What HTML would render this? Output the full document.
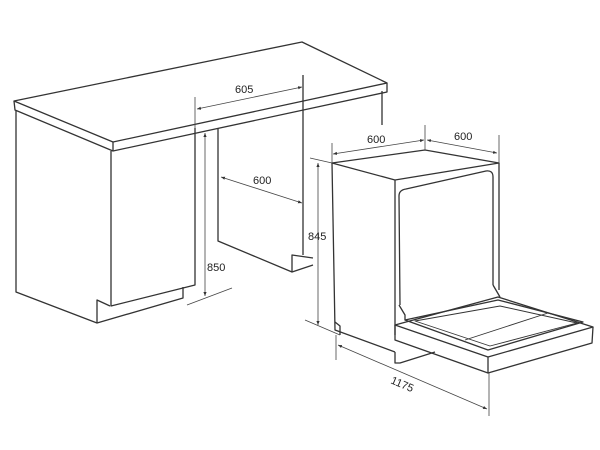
<!DOCTYPE html>
<html><head><meta charset="utf-8"><style>
html,body{margin:0;padding:0;background:#fff;}
svg{display:block}
text{font-family:"Liberation Sans",sans-serif;font-size:11px;fill:#222}
</style></head><body>
<svg width="600" height="450" viewBox="0 0 600 450" xmlns="http://www.w3.org/2000/svg">
<defs>
<marker id="a" viewBox="0 0 10 10" refX="10" refY="5" markerWidth="5" markerHeight="5" orient="auto-start-reverse"><path d="M0,1 L10,5 L0,9 z" fill="#333"/></marker>
</defs>
<g fill="none" stroke="#333" stroke-width="1.3" stroke-linejoin="round">
<!-- countertop -->
<path d="M14,101 L302,42 L387,83 L113,142 Z"/>
<path d="M14,101 L15,110 L113,151 L387,92 L387,83"/>
<path d="M113,142 L113,151"/>
<!-- left cabinet -->
<path d="M16,110 L16,292 L97,323 L183,298 L183,287"/>
<path d="M111,151 L111,306 L195,285 L195,128"/>
<path d="M97,323 L97,300 L110,306"/>
<!-- back panel of right cabinet -->
<path d="M218,128 L218,241 L292,272 L313,265"/>
<path d="M292,272 L292,255 L313,258"/>
<path d="M303,75 L303,255"/>
<path d="M382,91 L382,125"/>
<!-- dishwasher body -->
<path d="M332,163 L425,150 L499,163 L395,180 Z"/>
<path d="M332,163 L335,330 L395,352"/>
<path d="M395,180 L395,335"/>
<path d="M499,163 L499,290"/>
<path d="M400,305 L399,196 Q399,190 406,189 L486,171 Q493,170 493,177 L493,285"/>
<path d="M335,322 L340,326 L340,335"/>
<path d="M395,352 L395,363 L400,363 L435,352"/>
<path d="M493,285 L500,297"/>
<path d="M399,305 L405,315 L405,320"/>
<!-- door -->
<path d="M395,325 L498,297 L593,327 L488,357 Z"/>
<path d="M395,325 L395,340 L488,373 L592,343 L593,327"/>
<path d="M488,357 L488,373"/>
<path d="M405,320 L498,300 L583,322 L488,350 Z"/>
<path d="M415,321 L500,306 L577,323 L490,346 Z" stroke-width="0.9"/>
<path d="M465,340 L548,313" stroke-width="0.9"/>
</g>
<!-- dimension lines -->
<g fill="none" stroke="#444" stroke-width="0.8">
<path d="M195,97 L195,128"/>
<path d="M197,109 L302,87" marker-start="url(#a)" marker-end="url(#a)"/>
<path d="M221,177 L302,203" marker-start="url(#a)" marker-end="url(#a)"/>
<path d="M205,133 L205,296" marker-start="url(#a)" marker-end="url(#a)"/>
<path d="M187,305 L232,288"/>
<path d="M318,163 L318,325" marker-start="url(#a)" marker-end="url(#a)"/>
<path d="M310,158 L332,163"/>
<path d="M305,320 L340,335"/>
<path d="M332,143 L332,163"/>
<path d="M425,125 L425,150"/>
<path d="M499,135 L499,163"/>
<path d="M333,154 L424,140" marker-start="url(#a)" marker-end="url(#a)"/>
<path d="M427,140 L497,153" marker-start="url(#a)" marker-end="url(#a)"/>
<path d="M336,335 L336,360"/>
<path d="M489,373 L489,416"/>
<path d="M338,345 L487,409" marker-start="url(#a)" marker-end="url(#a)"/>
</g>
<text x="235" y="93">605</text>
<text x="253" y="184">600</text>
<text x="207" y="271">850</text>
<text x="308" y="240">845</text>
<text x="367" y="143">600</text>
<text x="454" y="140">600</text>
<text x="0" y="0" transform="translate(390,383) rotate(23)">1175</text>
</svg>
</body></html>
